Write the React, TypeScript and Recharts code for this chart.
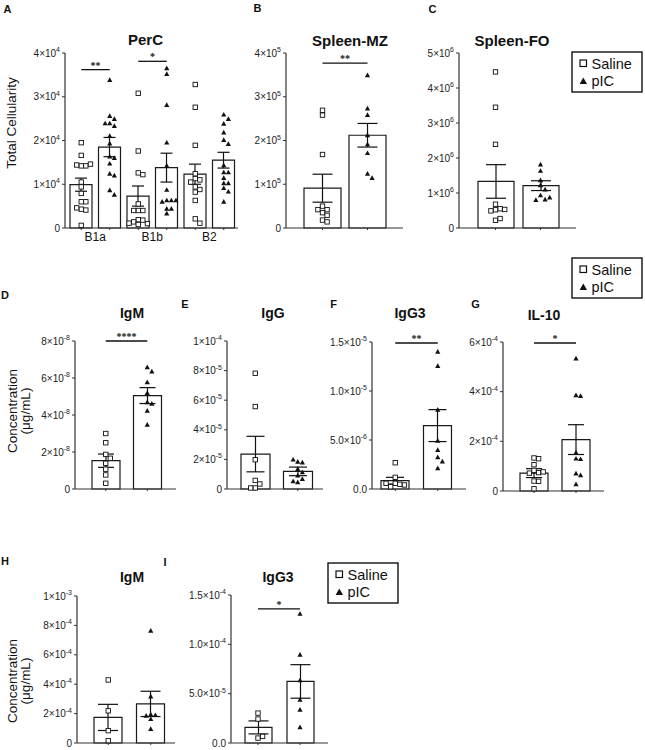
import React from 'react';
import { ComposedChart, Bar, ErrorBar, Scatter, XAxis, YAxis, ReferenceLine } from 'recharts';

const FONT = '"Liberation Sans", Arial, Helvetica, sans-serif';
const INK = '#111';
const AXIS = '#333';

const groups = ['Saline', 'pIC'];

// A - PerC
const percCats = ['B1a', 'B1b', 'B2'];
const percSalineMean = [9900, 7300, 12300];
const percSalineSem = [1500, 2300, 2300];
const percPicMean = [18500, 13800, 15500];
const percPicSem = [2200, 3300, 1800];
const percB1aSaline = [19500, 16600, 14200, 14200, 14400, 14600, 10500, 9400, 7900, 6000, 6000, 4300, 4100, 4600, 600];
const percB1aPic = [33800, 25600, 24900, 23900, 23900, 23300, 21000, 19300, 16300, 16000, 14700, 12400, 12000, 8600, 7600];
const percB1bSaline = [30800, 17600, 12600, 12200, 5500, 4000, 4000, 4000, 1900, 1800, 1400, 1000, 1100, 800];
const percB1bPic = [36500, 35200, 28100, 19500, 14200, 8700, 6300, 6300, 6000, 6300, 4400, 4400, 3300];
const percB2Saline = [32800, 27600, 18900, 12400, 11300, 11000, 10500, 9400, 8800, 8200, 6300, 2100, 1100];
const percB2Pic = [25900, 24900, 23800, 21800, 20100, 19200, 14300, 12700, 12700, 11400, 10200, 10200, 9100, 8300, 6000];
const percTicks = [0, 10000, 20000, 30000, 40000];
const percSigY = [36200, 38100];
const percSigText = ['**', '*'];

// B - Spleen-MZ
const mzMean = [91000, 212000];
const mzSem = [32000, 27000];
const mzSaline = [269000, 258000, 168000, 50000, 42000, 42000, 35000, 29000, 18000, 14000];
const mzPic = [349000, 273000, 258000, 212000, 191000, 171000, 124000, 114000];
const mzTicks = [0, 100000, 200000, 300000, 400000];

// C - Spleen-FO
const foMean = [1330000, 1210000];
const foSem = [480000, 140000];
const foSaline = [4460000, 3450000, 2390000, 680000, 550000, 520000, 490000, 530000, 220000, 270000];
const foPic = [1810000, 1630000, 1360000, 1220000, 1100000, 930000, 810000, 800000, 870000];
const foTicks = [0, 1e6, 2e6, 3e6, 4e6, 5e6];

// D - IgM
const igmMean = [1.53e-8, 5.05e-8];
const igmSem = [0.36e-8, 0.43e-8];
const igmSaline = [3.0e-8, 2.5e-8, 1.87e-8, 1.66e-8, 1.39e-8, 1.07e-8, 0.76e-8, 0.31e-8];
const igmPic = [6.58e-8, 6.35e-8, 5.77e-8, 5.18e-8, 4.69e-8, 4.6e-8, 4.23e-8, 3.47e-8];
const igmTicks = [0, 2e-8, 4e-8, 6e-8, 8e-8];

// E - IgG
const iggMean = [2.36e-5, 1.19e-5];
const iggSem = [1.2e-5, 0.29e-5];
const iggSaline = [7.82e-5, 5.57e-5, 1.98e-5, 0.58e-5, 0.34e-5, 0.07e-5, 0.07e-5];
const iggPic = [1.84e-5, 1.78e-5, 1.98e-5, 1.35e-5, 1.12e-5, 0.9e-5, 0.67e-5, 0.45e-5, 0.52e-5];
const iggTicks = [0, 2e-5, 4e-5, 6e-5, 8e-5, 1e-4];

// F - IgG3
const igg3Mean = [0.85e-6, 6.47e-6];
const igg3Sem = [0.34e-6, 1.63e-6];
const igg3Saline = [2.68e-6, 1.19e-6, 0.58e-6, 0.48e-6, 0.23e-6, 0.41e-6, 0.58e-6];
const igg3Pic = [14.0e-6, 12.54e-6, 8.07e-6, 4.92e-6, 3.98e-6, 3.23e-6, 2.79e-6, 2.11e-6];
const igg3Ticks = [0, 5e-6, 1e-5, 1.5e-5];

// G - IL-10
const il10Mean = [0.72e-4, 2.07e-4];
const il10Sem = [0.18e-4, 0.6e-4];
const il10Saline = [1.33e-4, 1.3e-4, 1.06e-4, 0.83e-4, 0.74e-4, 0.72e-4, 0.77e-4, 0.4e-4, 0.39e-4, 0.09e-4];
const il10Pic = [5.33e-4, 3.85e-4, 3.82e-4, 1.54e-4, 1.3e-4, 1.28e-4, 0.7e-4, 0.63e-4, 0.27e-4];
const il10Ticks = [0, 2e-4, 4e-4, 6e-4];

// H - IgM (second set)
const igm2Mean = [1.74e-4, 2.66e-4];
const igm2Sem = [0.89e-4, 0.86e-4];
const igm2Saline = [4.29e-4, 2.19e-4, 0.84e-4, 0.16e-4];
const igm2Pic = [7.63e-4, 3.16e-4, 1.94e-4, 1.89e-4, 1.85e-4, 1.62e-4, 0.95e-4];
const igm2Ticks = [0, 2e-4, 4e-4, 6e-4, 8e-4, 1e-3];

// I - IgG3 (second set)
const igg3bMean = [1.58e-5, 6.24e-5];
const igg3bSem = [0.66e-5, 1.7e-5];
const igg3bSaline = [3.03e-5, 2.43e-5, 0.5e-5, 0.67e-5];
const igg3bPic = [13.08e-5, 8.93e-5, 6.34e-5, 4.38e-5, 3.37e-5, 1.58e-5];
const igg3bTicks = [0, 5e-5, 1e-4, 1.5e-4];

type Frame = { axisX: number; yTop: number; y0: number; xEnd: number; padL: number; padR: number; barSize: number; cap: number };
type Series = { cat: string; kind: number; values: number[] };
type Sig = { from: string; to: string; y: number; text: string };

// beeswarm offset (px) so points at similar heights do not sit on top of each other
function swarm(values: number[], ppu: number, step = 4.6) {
  const placed: { y: number; dx: number }[] = [];
  return values.map((v) => {
    const y = v * ppu;
    for (let k = 0; k < 20; k++) {
      const dx = k === 0 ? 0 : (k % 2 ? 1 : -1) * Math.ceil(k / 2) * step;
      if (!placed.some((p) => Math.abs(p.y - y) < step && Math.abs(p.dx - dx) < step * 0.95)) {
        placed.push({ y, dx });
        return dx;
      }
    }
    return 0;
  });
}

function makeSciTick(digits: number) {
  return (p: any) => {
    const v = Number(p.payload.value);
    let m: string;
    let e: number | null = null;
    if (v === 0) m = (0).toFixed(digits);
    else {
      e = Math.floor(Math.log10(v) + 1e-9);
      m = (v / Math.pow(10, e)).toFixed(digits);
    }
    return (
      <text x={p.x} y={p.y} dy={3.5} textAnchor="end" fontSize={10} fill="#222" fontFamily={FONT}>
        {e === null ? m : <>{m}×10<tspan dy={-4.5} fontSize={7}>{e}</tspan></>}
      </text>
    );
  };
}

const noTick = () => <g />;

const percTick = (p: any) => {
  const [label, grp] = String(p.payload.value).split(' ');
  if (grp !== groups[0]) return <g />;
  return (
    <text x={p.x + 14} y={p.y + 9} textAnchor="middle" fontSize={12} fill={INK} fontFamily={FONT}>
      {label}
    </text>
  );
};

const pointShape = (p: any) => {
  const x = p.cx + (p.payload?.dx ?? 0);
  const y = p.cy;
  if (p.payload?.kind === 0) {
    return <rect x={x - 2.2} y={y - 2.2} width={4.4} height={4.4} fill="#fff" stroke={INK} strokeWidth={0.9} />;
  }
  return <polygon points={`${x},${y - 2.8} ${x + 2.6},${y + 1.9} ${x - 2.6},${y + 1.9}`} fill={INK} />;
};

function Panel({ f, cats, means, sems, series, ticks, digits, sig, catTick }: {
  f: Frame; cats: string[]; means: number[]; sems: number[]; series: Series[];
  ticks: number[]; digits: number; sig: Sig[]; catTick?: (p: any) => React.ReactElement;
}) {
  const yw = 60, mt = 16, mr = 4, xh = 22;
  const w = f.xEnd - f.axisX + yw + mr;
  const h = f.y0 - f.yTop + mt + xh;
  const yMax = ticks[ticks.length - 1];
  const ppu = (f.y0 - f.yTop) / yMax;
  const bars = cats.map((c, i) => ({ c, mean: means[i], sem: sems[i] }));
  const pts = series.flatMap((s) => {
    const dx = swarm(s.values, ppu);
    return s.values.map((v, i) => ({ c: s.cat, v, dx: dx[i], kind: s.kind }));
  });
  return (
    <div style={{ position: 'absolute', left: f.axisX - yw, top: f.yTop - mt }}>
      <ComposedChart width={w} height={h} data={bars} margin={{ top: mt, right: mr, bottom: 0, left: 0 }}>
        <XAxis
          dataKey="c"
          type="category"
          allowDuplicatedCategory={false}
          height={xh}
          padding={{ left: f.padL, right: f.padR }}
          axisLine={{ stroke: AXIS, strokeWidth: 1.2 }}
          tickLine={{ stroke: AXIS }}
          tickSize={2}
          interval={0}
          tick={catTick ?? noTick}
        />
        <YAxis
          type="number"
          domain={[0, yMax]}
          ticks={ticks}
          interval={0}
          width={yw}
          axisLine={{ stroke: AXIS, strokeWidth: 1.2 }}
          tickLine={{ stroke: AXIS }}
          tickSize={3}
          tickMargin={2}
          tick={makeSciTick(digits)}
        />
        <Bar dataKey="mean" barSize={f.barSize} fill="#fff" stroke="#1a1a1a" strokeWidth={1.2} isAnimationActive={false}>
          <ErrorBar dataKey="sem" width={f.cap} stroke={INK} strokeWidth={1.2} direction="y" />
        </Bar>
        <Scatter data={pts} dataKey="v" shape={pointShape} isAnimationActive={false} />
        {sig.map((s, i) => (
          <ReferenceLine
            key={i}
            segment={[{ x: s.from, y: s.y }, { x: s.to, y: s.y }]}
            stroke={INK}
            strokeWidth={1.3}
            label={{ value: s.text, position: 'top', offset: 1, fontSize: 10, fontWeight: 'bold', fill: INK }}
          />
        ))}
      </ComposedChart>
    </div>
  );
}

function two(saline: number[], pic: number[]): Series[] {
  return [
    { cat: groups[0], kind: 0, values: saline },
    { cat: groups[1], kind: 1, values: pic },
  ];
}
const sig2 = (y: number, text: string): Sig[] => [{ from: groups[0], to: groups[1], y, text }];

const percSaline = [percB1aSaline, percB1bSaline, percB2Saline];
const percPic = [percB1aPic, percB1bPic, percB2Pic];
const percKeys = percCats.flatMap((c) => groups.map((g) => `${c} ${g}`));

const frames: Record<string, Frame> = {
  A: { axisX: 65, yTop: 53, y0: 228, xEnd: 238, padL: 2, padR: 0, barSize: 22, cap: 6 },
  B: { axisX: 286, yTop: 53, y0: 228, xEnd: 403, padL: 14, padR: 13, barSize: 37, cap: 10 },
  C: { axisX: 459, yTop: 53, y0: 228, xEnd: 576, padL: 14, padR: 13, barSize: 36, cap: 10 },
  D: { axisX: 75, yTop: 341, y0: 489, xEnd: 176, padL: 10, padR: 8, barSize: 28, cap: 8 },
  E: { axisX: 227, yTop: 341, y0: 489, xEnd: 323, padL: 7, padR: 4, barSize: 29, cap: 9 },
  F: { axisX: 372, yTop: 342, y0: 489, xEnd: 466, padL: 2, padR: 7, barSize: 28, cap: 9 },
  G: { axisX: 503, yTop: 342, y0: 491, xEnd: 604, padL: 10, padR: 7, barSize: 28, cap: 8 },
  H: { axisX: 77, yTop: 596, y0: 743, xEnd: 175, padL: 10, padR: 3, barSize: 28, cap: 10 },
  I: { axisX: 231, yTop: 595, y0: 743, xEnd: 328, padL: 6, padR: 7, barSize: 27, cap: 10 },
};

function Txt({ x, y, s, size, bold, rotate }: { x: number; y: number; s: string; size: number; bold?: boolean; rotate?: boolean }) {
  return (
    <text
      x={x}
      y={y}
      fontSize={size}
      fontWeight={bold ? 'bold' : 'normal'}
      textAnchor="middle"
      dominantBaseline="central"
      transform={rotate ? `rotate(-90 ${x} ${y})` : undefined}
      fill={INK}
      fontFamily={FONT}
    >
      {s}
    </text>
  );
}

function LegendBox({ x, y }: { x: number; y: number }) {
  return (
    <g fontFamily={FONT}>
      <rect x={x} y={y} width={70} height={40} fill="#fff" stroke={INK} strokeWidth={1.4} />
      <rect x={x + 8} y={y + 8} width={6.5} height={6.5} fill="#fff" stroke={INK} strokeWidth={1.2} />
      <text x={x + 19.5} y={y + 11.5} dominantBaseline="central" fontSize={14.5} fill={INK}>{groups[0]}</text>
      <polygon points={`${x + 11.3},${y + 25.5} ${x + 15},${y + 32} ${x + 7.6},${y + 32}`} fill={INK} />
      <text x={x + 19.5} y={y + 29} dominantBaseline="central" fontSize={14.5} fill={INK}>{groups[1]}</text>
    </g>
  );
}

export default function App() {
  return (
    <div style={{ position: 'absolute', left: 0, top: 0, width: 645, height: 750, overflow: 'hidden', background: '#fff' }}>
      <Panel
        f={frames.A}
        cats={percKeys}
        means={percCats.flatMap((_, i) => [percSalineMean[i], percPicMean[i]])}
        sems={percCats.flatMap((_, i) => [percSalineSem[i], percPicSem[i]])}
        series={percCats.flatMap((c, i) => [
          { cat: `${c} ${groups[0]}`, kind: 0, values: percSaline[i] },
          { cat: `${c} ${groups[1]}`, kind: 1, values: percPic[i] },
        ])}
        ticks={percTicks}
        digits={0}
        sig={percSigY.map((y, i) => ({ from: `${percCats[i]} ${groups[0]}`, to: `${percCats[i]} ${groups[1]}`, y, text: percSigText[i] }))}
        catTick={percTick}
      />
      <Panel f={frames.B} cats={groups} means={mzMean} sems={mzSem} series={two(mzSaline, mzPic)} ticks={mzTicks} digits={0} sig={sig2(377000, '**')} />
      <Panel f={frames.C} cats={groups} means={foMean} sems={foSem} series={two(foSaline, foPic)} ticks={foTicks} digits={0} sig={[]} />
      <Panel f={frames.D} cats={groups} means={igmMean} sems={igmSem} series={two(igmSaline, igmPic)} ticks={igmTicks} digits={0} sig={sig2(8e-8, '****')} />
      <Panel f={frames.E} cats={groups} means={iggMean} sems={iggSem} series={two(iggSaline, iggPic)} ticks={iggTicks} digits={0} sig={[]} />
      <Panel f={frames.F} cats={groups} means={igg3Mean} sems={igg3Sem} series={two(igg3Saline, igg3Pic)} ticks={igg3Ticks} digits={1} sig={sig2(1.49e-5, '**')} />
      <Panel f={frames.G} cats={groups} means={il10Mean} sems={il10Sem} series={two(il10Saline, il10Pic)} ticks={il10Ticks} digits={0} sig={sig2(5.96e-4, '*')} />
      <Panel f={frames.H} cats={groups} means={igm2Mean} sems={igm2Sem} series={two(igm2Saline, igm2Pic)} ticks={igm2Ticks} digits={0} sig={[]} />
      <Panel f={frames.I} cats={groups} means={igg3bMean} sems={igg3bSem} series={two(igg3bSaline, igg3bPic)} ticks={igg3bTicks} digits={1} sig={sig2(1.36e-4, '*')} />

      <svg width={645} height={750} style={{ position: 'absolute', left: 0, top: 0, pointerEvents: 'none' }}>
        <Txt x={7.5} y={8.5} s="A" size={11} bold />
        <Txt x={257.5} y={8} s="B" size={11} bold />
        <Txt x={432.5} y={8.5} s="C" size={11} bold />
        <Txt x={5} y={295} s="D" size={11} bold />
        <Txt x={185} y={304} s="E" size={11} bold />
        <Txt x={333.5} y={304} s="F" size={11} bold />
        <Txt x={475.5} y={304} s="G" size={11} bold />
        <Txt x={5} y={561} s="H" size={11} bold />
        <Txt x={165} y={562} s="I" size={11} bold />

        <Txt x={145.5} y={39} s="PerC" size={15} bold />
        <Txt x={350} y={40} s="Spleen-MZ" size={15} bold />
        <Txt x={512} y={40} s="Spleen-FO" size={15} bold />
        <Txt x={132} y={313} s="IgM" size={14} bold />
        <Txt x={273} y={313} s="IgG" size={14} bold />
        <Txt x={410} y={313} s="IgG3" size={14} bold />
        <Txt x={544} y={315} s="IL-10" size={14} bold />
        <Txt x={132} y={577} s="IgM" size={14} bold />
        <Txt x={278} y={577} s="IgG3" size={14} bold />

        <Txt x={11.5} y={123} s="Total Cellularity" size={13.5} rotate />
        <Txt x={12.5} y={411} s="Concentration" size={13.5} rotate />
        <Txt x={25.5} y={411} s="(μg/mL)" size={13.5} rotate />
        <Txt x={12.5} y={681} s="Concentration" size={13.5} rotate />
        <Txt x={25.5} y={681} s="(μg/mL)" size={13.5} rotate />

        <LegendBox x={572} y={52} />
        <LegendBox x={572} y={258} />
        <LegendBox x={328} y={563} />
      </svg>
    </div>
  );
}
